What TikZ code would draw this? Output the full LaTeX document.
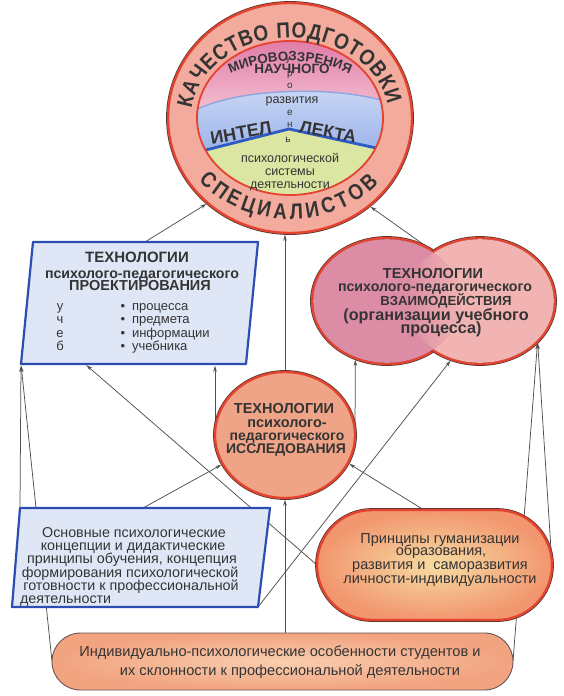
\documentclass[tikz,border=0pt]{standalone}
\usepackage{fontspec}
\setmainfont{Liberation Sans}
\newfontfamily\ringfont[FakeStretch=0.86]{Liberation Sans}
\usetikzlibrary{shapes.geometric,decorations.text,arrows.meta}
\newcommand\fsz[1]{\fontsize{#1}{#1}\selectfont}
\pgfdeclarelayer{bg}
\pgfdeclarelayer{lines}
\pgfsetlayers{bg,lines,main}
\definecolor{txt}{HTML}{343434}
\definecolor{ringfill}{HTML}{F3AB9D}
\definecolor{ringred}{HTML}{E3432F}
\definecolor{darkedge}{HTML}{4E3632}
\definecolor{pinktop}{HTML}{E07AA8}
\definecolor{pinkbot}{HTML}{F6C8D4}
\definecolor{bluetop}{HTML}{CBD8F4}
\definecolor{bluebot}{HTML}{9AB2EA}
\definecolor{blueline}{HTML}{2F5BC6}
\definecolor{greenfill}{HTML}{DAE6A2}
\definecolor{boxblue}{HTML}{DFE7F6}
\definecolor{boxedge}{HTML}{2C4DB2}
\definecolor{vzleft}{HTML}{DC8CA4}
\definecolor{vzright}{HTML}{F1B4B3}
\definecolor{isfill}{HTML}{F0A487}
\definecolor{prin}{HTML}{F6DCA2}
\definecolor{prout}{HTML}{F2966F}
\definecolor{btin}{HTML}{F9CEB0}
\definecolor{btout}{HTML}{F2A37F}
\definecolor{conn}{HTML}{505050}
\begin{document}
\begin{tikzpicture}[x=1pt,y=-1pt,
  conn/.style={draw=conn, line width=0.75pt, shorten >=1.8pt, -{Stealth[length=6pt,width=3.6pt]}},
  lbl/.style={text=txt, inner sep=0pt, outer sep=0pt, anchor=base},
  boldtxt/.style={lbl, font=\bfseries\fsz{#1}},
  plaintxt/.style={lbl, font=\fsz{#1}},
  edged/.style={preaction={draw=darkedge, line width=3.8pt}, draw=ringred, line width=2.4pt},
  blank/.style={inner sep=0pt, outer sep=0pt}
]
\begin{pgfonlayer}{bg}
\fill[white] (0,0) rectangle (564,696);
\end{pgfonlayer}
\useasboundingbox (0,0) rectangle (564,696);

% ===== top ring =====
\node[ellipse, blank, minimum width=244pt, minimum height=230pt, fill=ringfill, edged] (ring) at (290,118) {};
\begin{scope}
  \clip (290,118) ellipse [x radius=93, y radius=77];
  \shade[top color=pinktop, bottom color=pinkbot] (190,38) rectangle (390,120);
  \shade[top color=bluetop, bottom color=bluebot] (190,113) .. controls (236,86) and (344,86) .. (390,103) -- (390,151) -- (289,129) -- (190,154) -- cycle;
  \fill[greenfill] (190,154) -- (289,129) -- (390,151) -- (390,200) -- (190,200) -- cycle;
  \draw[blueline!55, line width=1.4pt] (190,113) .. controls (236,86) and (344,86) .. (390,103);
  \draw[blueline, line width=2.8pt, line join=round] (190,154) -- (289,129) -- (390,151);
\end{scope}
\draw[ringred, line width=1.8pt] (290,118) ellipse [x radius=93, y radius=77];

\path[decorate, decoration={text along path, text align={fit to path}, text color=txt,
   text={|\ringfont\bfseries\fsz{22}|КАЧЕСТВО ПОДГОТОВКИ}}]
   ([shift={(-173:99 and 80)}]290,118) arc [start angle=-173, end angle=-10, x radius=99, y radius=80];
\path[decorate, decoration={text along path, text align={fit to path}, text color=txt,
   text={|\ringfont\bfseries\fsz{22}|СПЕЦИАЛИСТОВ}}]
   ([shift={(142:116 and 101)}]290,118) arc [start angle=142, end angle=40, x radius=116, y radius=101];
\path[decorate, decoration={text along path, text align=center, text color=txt,
   text={|\bfseries\fsz{13.3}|МИРОВОЗЗРЕНИЯ}}]
   ([shift={(-119:147)}]290,208) arc [start angle=-119, end angle=-61, radius=147];

\node[boldtxt=13.5] (nauch) at (292,73) {НАУЧНОГО};
\node[plaintxt=10] (u1) at (288,61) {у};
\node[plaintxt=10] (u2) at (290,76) {р};
\node[plaintxt=10] (u3) at (290,88) {о};
\node[plaintxt=12.5] (razv) at (292,103) {развития};
\node[plaintxt=10] (u4) at (290,115) {е};
\node[plaintxt=10] (u5) at (290,127) {н};
\node[plaintxt=10] (u6) at (288,142) {ь};
\node[boldtxt=18, anchor=center, rotate=10] (intel) at (241,133) {ИНТЕЛ};
\node[boldtxt=17.5, anchor=center, rotate=-11] (lekta) at (328,132) {ЛЕКТА};
\node[plaintxt=12.5] (ps1) at (290,162) {психологической};
\node[plaintxt=12.5] (ps2) at (290,175) {системы};
\node[plaintxt=12.5] (ps3) at (290,188) {деятельности};

% ===== design technologies =====
\draw[fill=boxblue, draw=boxedge, line width=2.2pt, line join=round] (33,242) -- (258,242) -- (246,364) -- (21,364) -- cycle;
\coordinate (pkT) at (145,242);
\coordinate (pkBL) at (21,364);
\coordinate (pkB1) at (85,364);
\node[boldtxt=15] (pk1) at (137,262) {ТЕХНОЛОГИИ};
\node[boldtxt=14.2] (pk2) at (142,278) {психолого-педагогического};
\node[boldtxt=14.5] (pk3) at (140,290) {ПРОЕКТИРОВАНИЯ};
\foreach \yy/\ll/\ww [count=\i] in {310/у/процесса, 323.5/ч/предмета, 337/е/информации, 350.5/б/учебника} {
  \node[plaintxt=13] (pkl\i) at (60,\yy) {\ll};
  \node[plaintxt=13] (pkb\i) at (123,\yy) {•};
  \node[plaintxt=13, anchor=base west] (pkw\i) at (132,\yy) {\ww};
}

% ===== interaction technologies =====
\node[ellipse, blank, minimum width=150pt, minimum height=126pt] (vzL) at (387,301) {};
\node[ellipse, blank, minimum width=150pt, minimum height=126pt] (vzR) at (480,301) {};
\foreach \c in {vzL, vzR} {
  \draw[darkedge, line width=3.8pt] (\c.center) ellipse [x radius=75, y radius=63];
  \draw[ringred, line width=2.4pt] (\c.center) ellipse [x radius=75, y radius=63];
}
\fill[vzright] (vzR.center) ellipse [x radius=73.8, y radius=61.8];
\fill[vzleft] (vzL.center) ellipse [x radius=73.8, y radius=61.8];
\begin{scope}
  \clip (vzL.center) ellipse [x radius=73.8, y radius=61.8];
  \clip (vzR.center) ellipse [x radius=73.8, y radius=61.8];
  \shade[left color=vzleft, right color=vzright] (406,230) rectangle (462,372);
\end{scope}
\coordinate (vzN) at (433.5,251.6);
\node[boldtxt=14.5] (vz1) at (433,278) {ТЕХНОЛОГИИ};
\node[boldtxt=14.2] (vz2) at (435,291.5) {психолого-педагогического};
\node[boldtxt=13.2] (vz3) at (446,305) {ВЗАИМОДЕЙСТВИЯ};
\node[boldtxt=16.2] (vz4) at (436,320) {(организации учебного};
\node[boldtxt=16.2] (vz5) at (441,333) {процесса)};

% ===== research technologies =====
\node[ellipse, blank, minimum width=140pt, minimum height=126pt, fill=isfill, edged] (is) at (285,435) {};
\node[boldtxt=14.5] (is1) at (284,413) {ТЕХНОЛОГИИ};
\node[boldtxt=14.5] (is2) at (287,427) {психолого-};
\node[boldtxt=14] (is3) at (287,440) {педагогического};
\node[boldtxt=14] (is4) at (286,453) {ИССЛЕДОВАНИЯ};

% ===== basic concepts =====
\draw[fill=boxblue, draw=boxedge, line width=2.2pt, line join=round] (20,508) -- (270,508) -- (258,607) -- (12,607) -- cycle;
\coordinate (osTL) at (20,508);
\coordinate (osT1) at (143,508);
\coordinate (osBR) at (258,607);
\node[plaintxt=14.3] (os1) at (134,537) {Основные психологические};
\node[plaintxt=14.3] (os2) at (133,550) {концепции и дидактические};
\node[plaintxt=14.3] (os3) at (132,563) {принципы обучения, концепция};
\node[plaintxt=14.3] (os4) at (130,577) {формирования психологической};
\node[plaintxt=14.3] (os5) at (131,590) {готовности к профессиональной};
\node[plaintxt=14.3, anchor=base west] (os6) at (20,603) {деятельности};

% ===== principles =====
\node[rectangle, blank, rounded corners=54.9pt, minimum width=235pt, minimum height=110pt, inner color=prin, outer color=prout, edged] (pr) at (434.5,565) {};
\coordinate (prT1) at (424,510);
\node[plaintxt=14.5] (pr1) at (440,543) {Принципы гуманизации};
\node[plaintxt=14.5] (pr2) at (441,555) {образования,};
\node[plaintxt=14.5] (pr3) at (440,569) {развития и\ \ саморазвития};
\node[plaintxt=14.5] (pr4) at (440,583) {личности-индивидуальности};

% ===== bottom =====
\node[rectangle, blank, rounded corners=28.4pt, minimum width=461pt, minimum height=57pt, inner color=btin, outer color=btout, draw=darkedge!85, line width=0.9pt] (bt) at (282.5,661.5) {};
\node[plaintxt=14.6] (bt1) at (280,656) {Индивидуально-психологические особенности студентов и};
\node[plaintxt=14.6] (bt2) at (290,675) {их склонности к профессиональной деятельности};

% ===== connectors =====
\begin{pgfonlayer}{lines}
\draw[conn] (pkT) -- (ring.226);
\draw[conn] (is.north) -- (is.north |- ring.south);
\draw[conn] (vzN) -- (ring.-48);
\draw[conn] (is.west) -- (is.west |- pkBL);
\draw[conn] (is.east) -- (vzL.241);
\draw[conn] (osT1) -- (is.205);
\draw[conn] (pr.west) -- (pkB1);
\draw[conn] (prT1) -- (is.-24);
\draw[conn] (osBR) -- (vzR.244);
\draw[conn] (is.south |- bt.north) -- (is.south);
\draw[conn] (bt.west) -- (pkBL);
\draw[conn] (osTL) -- (pkBL);
\draw[conn] (bt.east) -- (vzR.-35);
\draw[conn] (pr.east) -- (vzR.-35);
\end{pgfonlayer}
\end{tikzpicture}
\end{document}
